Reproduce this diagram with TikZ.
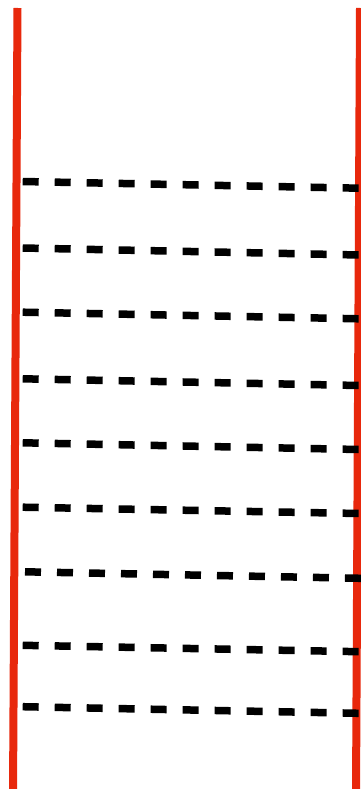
\documentclass[tikz,border=0pt]{standalone}
\usepackage{tikz}
\usepackage{xcolor}
\definecolor{railred}{RGB}{232,40,12}
\tikzset{rail/.style={railred,line width=8pt}, rung/.style={black,line width=7.5pt,dash pattern=on 16pt off 16pt}}
\begin{document}
\begin{tikzpicture}[x=1pt,y=-1pt]
\useasboundingbox (0,0) rectangle (361,789);
\clip (0,0) rectangle (361,789);
\draw[rail] (17.5,8) -- (13,795);
\draw[rail] (360,8) -- (356,795);
\foreach \xa/\ya/\xb/\yb in {22.7/181.5/359/188.2, 22.7/248/359/255, 22.7/312.2/359/318.8, 22.7/378.8/359/385.5, 22.7/442.8/359/449.5, 22.7/507.2/359/513.5, 25/571.8/361/578.3, 22.7/645.3/359/651.7, 22.7/706.7/359/713.3}
  \draw[rung] (\xa,\ya) -- (\xb,\yb);
\end{tikzpicture}
\end{document}
